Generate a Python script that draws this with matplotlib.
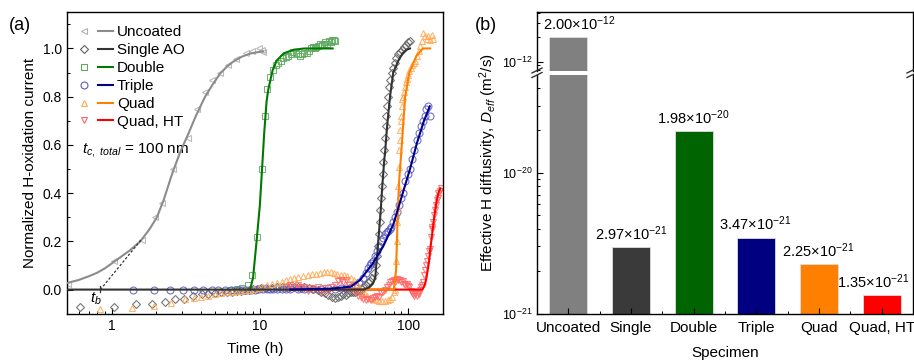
import numpy as np
import matplotlib
matplotlib.use("Agg")
import matplotlib.pyplot as plt
from matplotlib.lines import Line2D
from matplotlib.legend_handler import HandlerTuple
from matplotlib.ticker import NullFormatter, LogLocator, FixedLocator, MultipleLocator

plt.rcParams['font.family'] = ['Liberation Sans', 'DejaVu Sans']
plt.rcParams['mathtext.fontset'] = 'custom'
plt.rcParams['mathtext.rm'] = 'Liberation Sans'
plt.rcParams['mathtext.it'] = 'Liberation Sans:italic'
plt.rcParams['mathtext.bf'] = 'Liberation Sans:bold'

# ---------------- panel (a) data: (time h, normalized current) ----------------
unc_t = [0.51, 1.03, 1.6, 1.97, 2.2, 2.6, 3.25, 3.78, 4.27, 4.75, 5.4, 6.1, 6.9, 8.1, 8.85, 9.9, 10.5, 10.4]
unc_y = [0.025, 0.12, 0.205, 0.30, 0.36, 0.50, 0.63, 0.75, 0.82, 0.87, 0.90, 0.93, 0.955, 0.98, 0.99, 1.0, 0.985, 0.995]
unc_fit_t = [0.5, 0.6, 0.7, 0.8, 0.9, 1.0, 1.15, 1.33, 1.56, 1.8, 2.02, 2.24, 2.56, 2.9, 3.26, 3.7,
             4.27, 4.8, 5.38, 6.0, 6.6, 7.5, 8.5, 9.5, 10.5]
unc_fit_y = [0.027, 0.04, 0.055, 0.07, 0.088, 0.108, 0.135, 0.163, 0.20, 0.25, 0.30, 0.37, 0.48, 0.57,
             0.64, 0.72, 0.80, 0.85, 0.895, 0.925, 0.945, 0.965, 0.978, 0.984, 0.988]

sgl_t = [0.61, 1.04, 1.46, 1.87, 2.3, 2.68, 3.08, 3.56, 4.06, 4.5, 5.0, 5.5, 6.0, 6.5, 7.0, 7.5, 8.0, 8.5,
         9.0, 9.6, 10.2, 11.0, 12.0, 13.0, 14.0, 15.0, 16.0, 17.0, 18.0, 19.0, 20.0, 21.5, 23.0, 24.5,
         26.0, 27.5, 29.0, 30.5, 32.0, 33.5, 35.0, 36.5, 38.0, 39.5, 41.0, 42.5, 44.0, 45.5, 47.0, 48.5,
         50.0, 52.0, 54.0, 55.0, 57.0, 59.0, 60.5, 61.5, 62.5, 63.5, 64.3, 65.0, 65.8, 66.5, 67.3, 68.0,
         68.8, 69.6, 70.5, 71.5, 72.5, 73.5, 74.7, 76.0, 77.5, 79.0, 81.0, 83.0, 85.5, 88.0, 91.0, 94.0,
         97.0, 100.0, 103.0]
sgl_y = [-0.074, -0.074, -0.06, -0.058, -0.05, -0.04, -0.037, -0.028, -0.02, -0.018, -0.015, -0.012,
         -0.01, -0.008, -0.006, -0.004, -0.002, 0.0, 0.002, 0.004, 0.005, 0.006, 0.008, 0.01, 0.009,
         0.012, 0.01, 0.012, 0.01, 0.008, 0.01, 0.006, 0.004, 0.0, -0.008, -0.015, -0.022, -0.03,
         -0.035, -0.03, -0.025, -0.02, -0.024, -0.015, -0.01, -0.012, -0.008, -0.004, 0.0, 0.004,
         0.01, 0.02, 0.03, 0.035, 0.05, 0.07, 0.10, 0.14, 0.18, 0.23, 0.28, 0.33, 0.38, 0.43, 0.48,
         0.53, 0.58, 0.63, 0.68, 0.72, 0.76, 0.80, 0.84, 0.87, 0.90, 0.92, 0.94, 0.96, 0.975, 0.985,
         0.995, 1.005, 1.015, 1.025, 1.03]
sgl_fit_t = [0.5, 50, 55, 58, 60, 61, 62, 63.5, 65.4, 67, 69, 70, 72, 75.5, 79.4, 86, 92, 98, 103]
sgl_fit_y = [0.0, 0.0, 0.01, 0.025, 0.05, 0.10, 0.15, 0.23, 0.33, 0.43, 0.535, 0.57, 0.67, 0.80, 0.90,
             0.95, 0.98, 0.995, 1.0]

dbl_t = [6.4, 7.0, 7.6, 8.3, 8.9, 9.5, 10.3, 10.8, 11.1, 11.7, 12.3, 12.8, 13.3, 13.8, 14.4, 15.0, 15.6,
         16.2, 16.8, 17.4, 18.0, 18.7, 19.3, 20.0, 20.7, 21.4, 22.0, 22.7, 23.4, 24.0, 24.8, 25.5, 26.2,
         27.0, 27.7, 28.5, 29.2, 30.0, 30.7, 31.4, 32.0]
dbl_y = [0.0, 0.002, 0.005, 0.02, 0.06, 0.22, 0.50, 0.72, 0.83, 0.88, 0.91, 0.93, 0.94, 0.95, 0.96, 0.965,
         0.97, 0.975, 0.985, 0.98, 0.975, 0.97, 0.975, 0.98, 0.98, 0.99, 1.0, 1.005, 1.0, 1.005, 1.01,
         1.02, 1.015, 1.02, 1.025, 1.02, 1.03, 1.025, 1.035, 1.035, 1.03]
dbl_fit_t = [8.6, 9.0, 9.5, 10.0, 10.3, 10.7, 11.1, 11.4, 12.2, 13.0, 14.5, 17.0, 20.0, 31.0]
dbl_fit_y = [0.0, 0.05, 0.2, 0.35, 0.48, 0.65, 0.78, 0.83, 0.91, 0.95, 0.98, 0.995, 1.0, 1.0]

tri_t = [1.39, 1.94, 2.48, 3.05, 3.62, 4.16, 4.74, 5.25, 5.8, 6.37, 6.98, 7.55, 8.1, 8.7, 9.3, 9.9,
         10.5, 11.1, 11.7, 12.3, 13.0, 14.0, 15.0, 16.0, 18.0, 20.0, 23.0, 26.0, 29.0, 32.0, 35.0, 38.0,
         41.0, 44.0, 47.0, 50.0, 52.0, 54.0, 55.0, 56.0, 58.0, 60.0, 62.0, 64.0, 66.0, 68.0, 70.0, 72.0,
         73.5, 75.0, 77.0, 79.0, 81.0, 84.0, 87.0, 90.0, 93.0, 96.0, 100.0, 103.0, 106.0, 110.0, 114.0,
         118.0, 122.0, 126.0, 130.0, 133.0, 137.0, 141.0]
tri_y = [0.0, 0.0, 0.0, 0.0, 0.0, 0.0, 0.0, 0.0, 0.0, 0.0, 0.0, 0.0, 0.0, 0.0, 0.0, 0.002, 0.002, 0.003,
         0.002, 0.003, 0.002, 0.003, 0.002, 0.003, 0.002, 0.003, 0.004, 0.003, 0.005, 0.004, 0.006, 0.008,
         0.012, 0.02, 0.03, 0.05, 0.07, 0.09, 0.10, 0.11, 0.12, 0.14, 0.16, 0.18, 0.20, 0.215, 0.23, 0.24,
         0.245, 0.25, 0.26, 0.28, 0.30, 0.32, 0.35, 0.38, 0.40, 0.45, 0.48, 0.50, 0.54, 0.58, 0.62, 0.65,
         0.68, 0.70, 0.72, 0.75, 0.76, 0.72]
tri_fit_t = [16, 30, 41, 47.5, 58, 68, 79.5, 90, 103, 115, 128, 140]
tri_fit_y = [0.0, 0.004, 0.012, 0.04, 0.11, 0.18, 0.27, 0.38, 0.50, 0.61, 0.70, 0.76]

qd_t = [0.835, 1.37, 1.94, 2.52, 3.13, 3.6, 4.0, 4.5, 5.0, 5.5, 6.0, 6.5, 7.0, 7.5, 8.0, 8.6, 9.2, 9.8,
        10.5, 11.2, 12.0, 13.0, 14.0, 15.0, 16.0, 17.0, 18.0, 19.5, 21.0, 22.5, 24.0, 25.5, 27.0, 28.5,
        30.0, 31.5, 33.0, 35.0, 37.0, 39.0, 41.0, 43.0, 45.0, 47.0, 49.0, 51.0, 53.0, 55.0, 58.0, 61.0,
        64.0, 67.0, 70.0, 73.0, 76.0, 78.0, 80.0, 81.0, 82.5, 83.5, 84.0, 84.5, 85.5, 86.0, 86.8, 87.4,
        88.0, 88.6, 89.5, 90.0, 90.5, 91.0, 92.0, 93.5, 95.0, 96.5, 98.0, 100.0, 102.0, 104.0, 106.0,
        109.0, 112.0, 115.0, 118.0, 121.0, 124.0, 126.0, 130.0, 134.0, 137.0, 141.0, 144.0, 148.0]
qd_y = [-0.079, -0.076, -0.07, -0.056, -0.04, -0.033, -0.03, -0.025, -0.02, -0.016, -0.012, -0.01,
        -0.006, -0.004, -0.002, 0.0, 0.004, 0.008, 0.012, 0.018, 0.022, 0.027, 0.032, 0.038, 0.043, 0.048,
        0.052, 0.056, 0.06, 0.063, 0.066, 0.07, 0.072, 0.074, 0.074, 0.07, 0.066, 0.062, 0.06, 0.055,
        0.05, 0.04, 0.025, 0.01, -0.01, -0.02, -0.028, -0.035, -0.04, -0.045, -0.048, -0.048, -0.047,
        -0.045, -0.04, -0.03, -0.01, 0.0, 0.05, 0.12, 0.2, 0.28, 0.34, 0.43, 0.51, 0.58, 0.62, 0.66,
        0.70, 0.72, 0.76, 0.79, 0.80, 0.82, 0.84, 0.86, 0.875, 0.89, 0.905, 0.92, 0.93, 0.94, 0.95,
        0.97, 0.99, 1.01, 1.03, 1.065, 1.05, 1.04, 1.05, 1.035, 1.055, 1.04]
qd_fit_t = [40, 80, 83, 85, 87, 89.5, 95.5, 102, 114, 126, 141]
qd_fit_y = [0.0, 0.0, 0.08, 0.3, 0.45, 0.55, 0.80, 0.90, 0.97, 1.0, 1.0]

ht_t = [15, 16, 17, 18, 19, 20, 21, 22, 23, 24.5, 26, 27.5, 29, 30.5, 32, 33.5, 35, 36.5, 38, 40, 42,
        44, 46, 48, 50, 52, 54, 56, 58, 60, 62, 64, 66, 68, 70, 72, 74, 76, 78, 80, 82, 84, 86, 88, 90,
        92, 94, 96, 98, 100, 102, 104, 106, 108, 110, 112, 114, 116, 118, 120, 122, 124, 126, 128, 130,
        132, 134, 136, 138, 140, 142, 144, 146, 148, 150, 152, 154, 156, 158, 160, 163, 166]
ht_y = [0.012, 0.02, 0.008, 0.018, 0.005, 0.012, -0.005, 0.008, 0.0, 0.01, -0.01, 0.005, -0.004, 0.012,
        0.02, 0.035, 0.04, 0.03, 0.038, 0.02, 0.01, -0.01, -0.025, -0.03, -0.04, -0.045, -0.04, -0.045,
        -0.035, -0.03, -0.025, -0.03, -0.015, -0.01, 0.0, 0.01, 0.02, 0.03, 0.035, 0.04, 0.03, 0.045,
        0.04, 0.038, 0.03, 0.035, 0.025, 0.02, 0.025, 0.015, 0.01, -0.005, -0.015, -0.02, -0.025,
        -0.018, -0.025, -0.015, -0.02, 0.0, 0.01, 0.02, 0.03, 0.06, 0.08, 0.1, 0.12, 0.14, 0.16, 0.17,
        0.22, 0.25, 0.26, 0.28, 0.31, 0.33, 0.35, 0.37, 0.38, 0.40, 0.41, 0.42]
ht_fit_t = [16, 125, 130, 134, 138, 142, 146, 150, 155, 160, 165]
ht_fit_y = [0.0, 0.0, 0.02, 0.06, 0.11, 0.18, 0.24, 0.30, 0.36, 0.40, 0.42]

series_names = ["Uncoated", "Single AO", "Double", "Triple", "Quad", "Quad, HT"]

# ---------------- panel (b) data ----------------
specimens = ["Uncoated", "Single", "Double", "Triple", "Quad", "Quad, HT"]
d_eff = [2.00e-12, 2.97e-21, 1.98e-20, 3.47e-21, 2.25e-21, 1.35e-21]
d_labels = ["2.00\u00d710$^{-12}$", "2.97\u00d710$^{-21}$", "1.98\u00d710$^{-20}$",
            "3.47\u00d710$^{-21}$", "2.25\u00d710$^{-21}$", "1.35\u00d710$^{-21}$"]
bar_colors = ["#808080", "#3a3a3a", "#006400", "#000080", "#ff8000", "#ff0000"]

W, H = 914, 362
fig = plt.figure(figsize=(W / 100, H / 100), dpi=100)


def px_rect(x0, y0, x1, y1):
    return [x0 / W, 1 - y1 / H, (x1 - x0) / W, (y1 - y0) / H]


# ======================= panel (a) =======================
ax = fig.add_axes(px_rect(67, 12.3, 443, 313.7))
ax.set_xscale('log')
ax.set_xlim(0.5, 172)
ax.set_ylim(-0.1, 1.15)

mk_styles = [
    ('<', '#b0b0b0', '#8c8c8c'),
    ('D', '#606060', '#333333'),
    ('s', '#5fa85f', '#007a00'),
    ('o', '#5a5ac0', '#00008b'),
    ('^', '#ffaa55', '#ff8000'),
    ('v', '#ff6666', '#ff0000'),
]
data_sets = [
    (unc_t, unc_y, unc_fit_t, unc_fit_y),
    (sgl_t, sgl_y, sgl_fit_t, sgl_fit_y),
    (dbl_t, dbl_y, dbl_fit_t, dbl_fit_y),
    (tri_t, tri_y, tri_fit_t, tri_fit_y),
    (qd_t, qd_y, qd_fit_t, qd_fit_y),
    (ht_t, ht_y, ht_fit_t, ht_fit_y),
]
fit_z = [5, 6, 5, 7, 4, 3]

handles = []
for (mk, mc, lc), (tt, yy, ft, fy), z in zip(mk_styles, data_sets, fit_z):
    msize = 4.2 if mk == 'D' else 5
    ax.plot(tt, yy, linestyle='none', marker=mk, markersize=msize, markerfacecolor='none',
            markeredgecolor=mc, markeredgewidth=0.8, alpha=0.85, zorder=2)
    ax.plot(ft, fy, color=lc, lw=1.5, zorder=z)
    h_m = Line2D([], [], linestyle='none', marker=mk, markersize=msize, markerfacecolor='none',
                 markeredgecolor=mc, markeredgewidth=0.8)
    h_l = Line2D([], [], color=lc, lw=1.5)
    handles.append((h_m, h_l))

# t_b construction
ax.plot([0.84, 1.6], [0.0, 0.21], color='#333333', lw=0.9, ls=(0, (2, 1.5)), zorder=6)
ax.plot([0.835, 0.835], [-0.012, 0.015], color='#333333', lw=0.9, zorder=6)
ax.text(0.78, -0.04, '$t_b$', fontsize=11, ha='center', va='center')

leg = ax.legend(handles, series_names, handler_map={tuple: HandlerTuple(ndivide=None, pad=0.4)},
                loc='upper left', bbox_to_anchor=(0.025, 0.958), frameon=False, fontsize=11,
                handlelength=2.4, handletextpad=0.25, labelspacing=0.26, borderpad=0, borderaxespad=0)

ax.text(0.04, 0.543, '$t_{c,\\ total}$ = 100 nm', transform=ax.transAxes, fontsize=11,
        ha='left', va='center')

ax.set_xticks([1, 10, 100])
ax.set_xticklabels(['1', '10', '100'])
ax.xaxis.set_minor_locator(LogLocator(base=10, subs=np.arange(2, 10)))
ax.xaxis.set_minor_formatter(NullFormatter())
ax.set_yticks([0.0, 0.2, 0.4, 0.6, 0.8, 1.0])
ax.set_yticklabels(['0.0', '0.2', '0.4', '0.6', '0.8', '1.0'])
ax.yaxis.set_minor_locator(MultipleLocator(0.1))
ax.tick_params(which='both', direction='in', labelsize=10)
ax.tick_params(which='major', length=4.5, width=0.8)
ax.tick_params(which='minor', length=2.5, width=0.7)
for s in ax.spines.values():
    s.set_linewidth(1.0)
ax.set_xlabel('Time (h)', fontsize=11, labelpad=7)
ax.set_ylabel('Normalized H-oxidation current', fontsize=11, labelpad=4)
fig.text(20 / W, 1 - 25 / H, '(a)', fontsize=13, ha='center', va='center')

# ======================= panel (b) =======================
ax_top = fig.add_axes(px_rect(537, 12.3, 913, 70.5))
ax_low = fig.add_axes(px_rect(537, 75, 913, 313.7))
x = np.arange(len(specimens))
for a, bottom in ((ax_top, 1e-13), (ax_low, 1e-23)):
    a.bar(x, np.array(d_eff) - bottom, bottom=bottom, width=0.61, color=bar_colors,
          edgecolor='#dddddd', linewidth=0.6)
    a.set_yscale('log')
    a.set_xlim(-0.5, 5.5)
ax_top.set_ylim(7.78e-13, 4.07e-12)
ax_low.set_ylim(1e-21, 4.95e-20)

ax_top.spines['bottom'].set_visible(False)
ax_low.spines['top'].set_visible(False)
ax_top.tick_params(axis='x', which='both', bottom=False, top=False, labelbottom=False)
ax_top.yaxis.set_major_locator(FixedLocator([1e-12]))
ax_top.yaxis.set_minor_locator(FixedLocator([8e-13, 9e-13, 2e-12, 3e-12, 4e-12]))
ax_low.yaxis.set_major_locator(FixedLocator([1e-21, 1e-20]))
ax_low.yaxis.set_minor_locator(FixedLocator([k * 1e-21 for k in range(2, 10)] +
                                            [k * 1e-20 for k in range(2, 5)]))
for a in (ax_top, ax_low):
    a.yaxis.set_minor_formatter(NullFormatter())
    a.tick_params(which='both', direction='in', labelsize=9, right=False, top=False)
    a.tick_params(which='major', length=4.5, width=0.8)
    a.tick_params(which='minor', length=2.5, width=0.7)
    for s in a.spines.values():
        s.set_linewidth(1.0)

ax_low.set_xticks(x)
ax_low.set_xticklabels(specimens, fontsize=11)
ax_low.xaxis.set_minor_locator(FixedLocator(x[:-1] + 0.5))
ax_low.tick_params(axis='x', which='major', length=4, pad=5)
ax_low.tick_params(axis='x', which='minor', length=2.5)

label_dx = [0.17, 0.0, 0.0, -0.02, -0.02, -0.14]
for i, (v, lab) in enumerate(zip(d_eff, d_labels)):
    target = ax_top if v > 1e-15 else ax_low
    target.annotate(lab, (i + label_dx[i], v), xytext=(0, 3), textcoords='offset points',
                    ha='center', va='bottom', fontsize=10.5)

# break marks
for xb in (537, 912):
    for yb in (70.5, 75):
        fig.add_artist(Line2D([(xb - 5) / W, (xb + 5) / W], [1 - (yb + 2.5) / H, 1 - (yb - 2.5) / H],
                              color='#333333', lw=1.0, transform=fig.transFigure))

ax_low.set_xlabel('Specimen', fontsize=11, labelpad=8)
fig.text(488 / W, 1 - 163 / H, 'Effective H diffusivity, $D_{eff}$ (m$^2$/s)', rotation=90,
         fontsize=11, ha='center', va='center')
fig.text(486 / W, 1 - 25 / H, '(b)', fontsize=13, ha='center', va='center')

fig.savefig('out.png', dpi=100)
